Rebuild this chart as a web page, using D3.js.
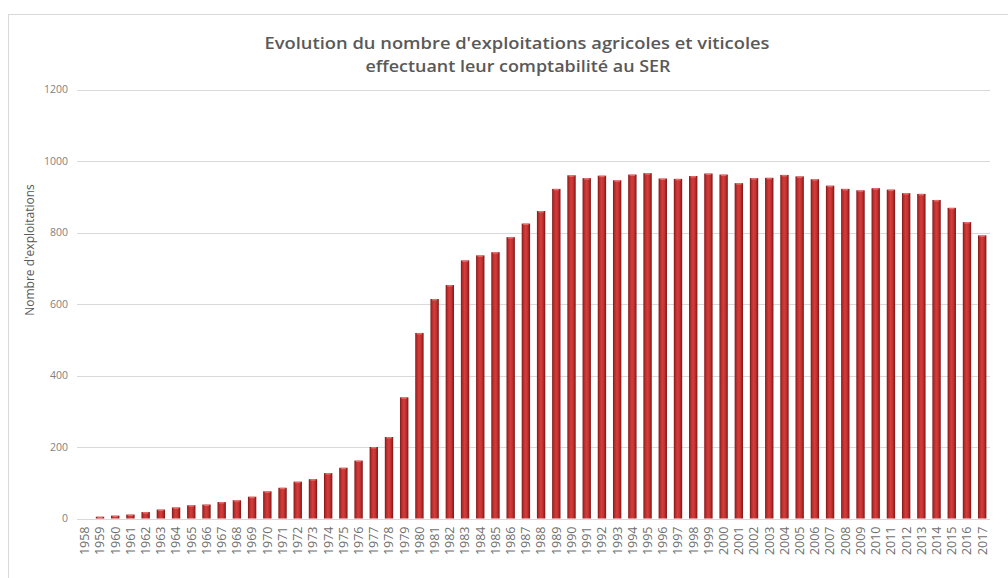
<!DOCTYPE html>
<html>
<head>
<meta charset="utf-8">
<script src="https://cdn.jsdelivr.net/npm/d3@7"></script>
<style>
  html, body { margin: 0; padding: 0; background: #fff; }
  svg { display: block; }
</style>
</head>
<body>
<svg id="chart" width="1008" height="578"></svg>
<script>
const years = d3.range(1958, 2018).map(String);
const values = [
  0, 5, 8, 11, 18, 25, 31, 37, 39, 46,
  51, 61, 76, 86, 103, 110, 127, 142, 162, 200,
  228, 339, 519, 614, 653, 722, 736, 745, 787, 825,
  860, 922, 960, 952, 959, 946, 962, 966, 951, 950,
  958, 965, 962, 938, 952, 953, 961, 957, 949, 931,
  922, 918, 924, 920, 910, 908, 891, 869, 829, 792
];
const yTicks = [0, 200, 400, 600, 800, 1000, 1200];
const titleLines = ["Evolution du nombre d'exploitations agricoles et viticoles", "effectuant leur comptabilité au SER"];
const yTitle = "Nombre d'exploitations";

const svg = d3.select("#chart");
const data = years.map((y, i) => ({ year: y, value: values[i] }));

// outer frame
svg.append("rect").attr("x", 8.5).attr("y", 14.5).attr("width", 1010).attr("height", 580)
  .attr("fill", "#fff").attr("stroke", "#d9d9d9");

const x = d3.scaleBand().domain(years).range([77.2, 989.8]).paddingInner(0.45).paddingOuter(0.225);
const y = d3.scaleLinear().domain([0, 1200]).range([518.5, 89.5]);

const defs = svg.append("defs");
const grad = defs.append("linearGradient").attr("id", "barGrad").attr("x1", "0").attr("x2", "1").attr("y1", "0").attr("y2", "0");
[["0%", "#7d1515"], ["18%", "#b52a29"], ["45%", "#d43d3b"], ["70%", "#c23231"], ["100%", "#7a1616"]]
  .forEach(([o, c]) => grad.append("stop").attr("offset", o).attr("stop-color", c));

// gridlines
svg.append("g").selectAll("line").data(yTicks).join("line")
  .attr("x1", 77).attr("x2", 990)
  .attr("y1", d => Math.round(y(d)) + 0.5).attr("y2", d => Math.round(y(d)) + 0.5)
  .attr("stroke", "#d9d9d9").attr("stroke-width", 1);

// y axis labels
const yAxis = d3.axisLeft(y).tickValues(yTicks).tickFormat(d3.format("d")).tickSize(0).tickPadding(0);
const gy = svg.append("g").attr("transform", "translate(68,0)").call(yAxis);
gy.select(".domain").remove();
gy.selectAll("text").attr("font-family", "'Open Sans', sans-serif").attr("font-size", 10.5).attr("fill", "#7f7f7f");

// bars
svg.append("g").selectAll("rect").data(data.filter(d => d.value > 0)).join("rect")
  .attr("x", d => x(d.year)).attr("width", x.bandwidth())
  .attr("y", d => y(d.value)).attr("height", d => y(0) - y(d.value))
  .attr("fill", "url(#barGrad)");
// top bevel highlights
svg.append("g").selectAll("rect").data(data.filter(d => d.value > 0)).join("rect")
  .attr("x", d => x(d.year) + 1.5).attr("width", x.bandwidth() - 3)
  .attr("y", d => y(d.value)).attr("height", 1.5)
  .attr("fill", "#e87a78").attr("opacity", 0.8);

// x axis labels
const xAxis = d3.axisBottom(x).tickSize(0).tickPadding(0);
const gx = svg.append("g").attr("transform", `translate(0,${y(0)})`).call(xAxis);
gx.select(".domain").remove();
gx.selectAll("text")
  .attr("font-family", "'Open Sans', sans-serif").attr("font-size", 12.5).attr("fill", "#6f6f6f")
  .attr("text-anchor", "end").attr("dy", "0.35em")
  .attr("transform", "translate(0,8) rotate(-90)")
  .attr("x", 0).attr("y", 0);

// title
const t = svg.append("text").attr("text-anchor", "middle")
  .attr("font-family", "'Open Sans', sans-serif").attr("font-weight", 600)
  .attr("font-size", 17).attr("fill", "#595959");
t.append("tspan").attr("x", 517).attr("y", 49).attr("textLength", 505).attr("lengthAdjust", "spacingAndGlyphs").text(titleLines[0]);
t.append("tspan").attr("x", 518).attr("y", 72).attr("textLength", 305).attr("lengthAdjust", "spacingAndGlyphs").text(titleLines[1]);

// y title
svg.append("text").attr("transform", "translate(34,250) rotate(-90)")
  .attr("text-anchor", "middle").attr("font-family", "'Open Sans', sans-serif")
  .attr("font-size", 12).attr("fill", "#595959").text(yTitle);
</script>
</body>
</html>
